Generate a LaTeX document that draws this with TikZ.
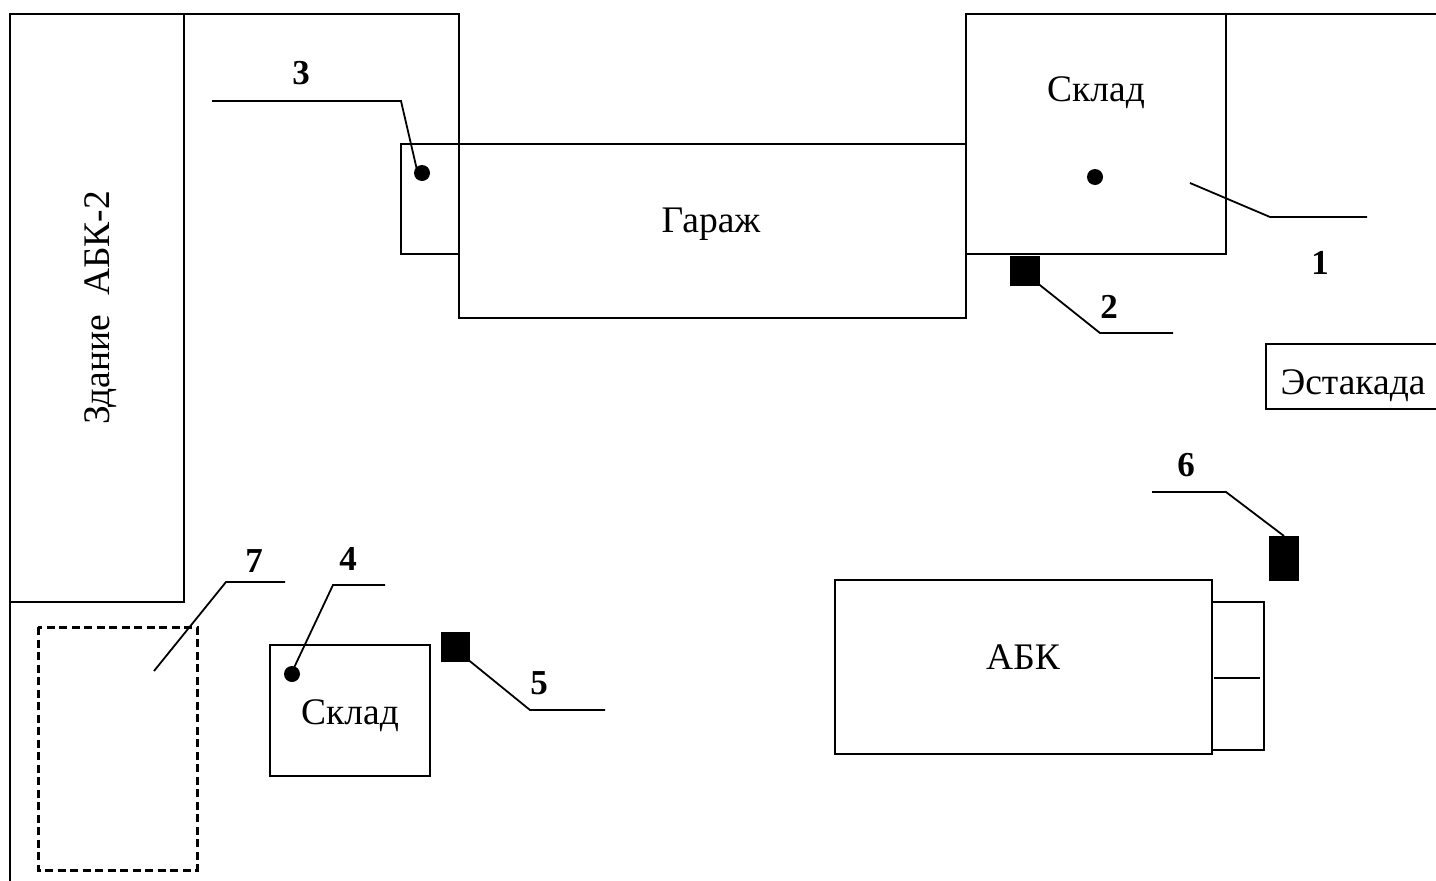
\documentclass[tikz,border=0pt]{standalone}
\usepackage{fontspec}
\setmainfont{Liberation Serif}
\tikzset{
  wall/.style={draw=black,line width=2.3pt,line cap=rect},
  outer/.style={draw=black,line width=2.8pt,line cap=rect},
  lead/.style={draw=black,line width=1.8pt},
  lbl/.style={inner sep=0pt,font=\fontsize{37.5}{42}\selectfont},
  num/.style={inner sep=0pt,font=\fontsize{35}{40}\selectfont\bfseries},
  sq/.style={fill=black,draw=none},
  dotm/.style={fill=black,draw=none}
}
\begin{document}
\begin{tikzpicture}[x=1pt,y=-1pt]
\useasboundingbox (0,0) rectangle (1436,881);
\fill[white] (0,0) rectangle (1436,881);
% outer lines
\draw[outer] (10,881) -- (10,14) -- (459,14);
\draw[outer] (966,14) -- (1436,14);
\draw[wall] (459,14) -- (459,318) -- (966,318) -- (966,14);
\draw[wall] (184,14) -- (184,602) -- (10,602);
\draw[wall] (459,144) -- (966,144);
\draw[wall] (459,144) -- (401,144) -- (401,254) -- (459,254);
\draw[wall] (966,254) -- (1226,254) -- (1226,14);
% estakada
\draw[wall] (1436,344) -- (1266,344) -- (1266,409) -- (1436,409);
% ABK
\draw[wall] (835,580) rectangle (1212,754);
\draw[wall] (1212,602) -- (1264,602) -- (1264,750) -- (1212,750);
\draw[lead] (1214,678) -- (1260,678);
% sklad small
\draw[wall] (270,645) rectangle (430,776);
% dashed
\draw[draw=black,line width=3pt,dash pattern=on 8pt off 4.5pt] (38,627) rectangle (197,870);
% squares
\fill[sq] (1010,256) rectangle (1040,286);
\fill[sq] (441,632) rectangle (470,662);
\fill[sq] (1269,536) rectangle (1299,581);
% dots
\fill[dotm] (422,173) circle (8);
\fill[dotm] (1095,177) circle (8);
\fill[dotm] (292,674) circle (8);
% leaders
\draw[lead] (212,101) -- (401,101) -- (417,170);
\draw[lead] (1190,183) -- (1270,217) -- (1367,217);
\draw[lead] (1036,282) -- (1100,333) -- (1173,333);
\draw[lead] (1152,492) -- (1226,492) -- (1284,536);
\draw[lead] (385,585) -- (333,585) -- (292,672);
\draw[lead] (466,658) -- (530,710) -- (605,710);
\draw[lead] (285,582) -- (226,582) -- (154,671);
% labels
\node[lbl] at (1096,93) {Склад};
\node[lbl] at (711,224) {Гараж};
\node[lbl] at (1353,386) {Эстакада};
\node[lbl] at (1023,657) {АБК};
\node[lbl] at (350,716) {Склад};
\node[lbl,rotate=90] at (101,308) {Здание\ \ АБК-2};
\node[num] at (301,73) {3};
\node[num] at (1320,263) {1};
\node[num] at (1109,307) {2};
\node[num] at (1186,465) {6};
\node[num] at (348,559) {4};
\node[num] at (254,561) {7};
\node[num] at (539,683) {5};
\end{tikzpicture}
\end{document}
